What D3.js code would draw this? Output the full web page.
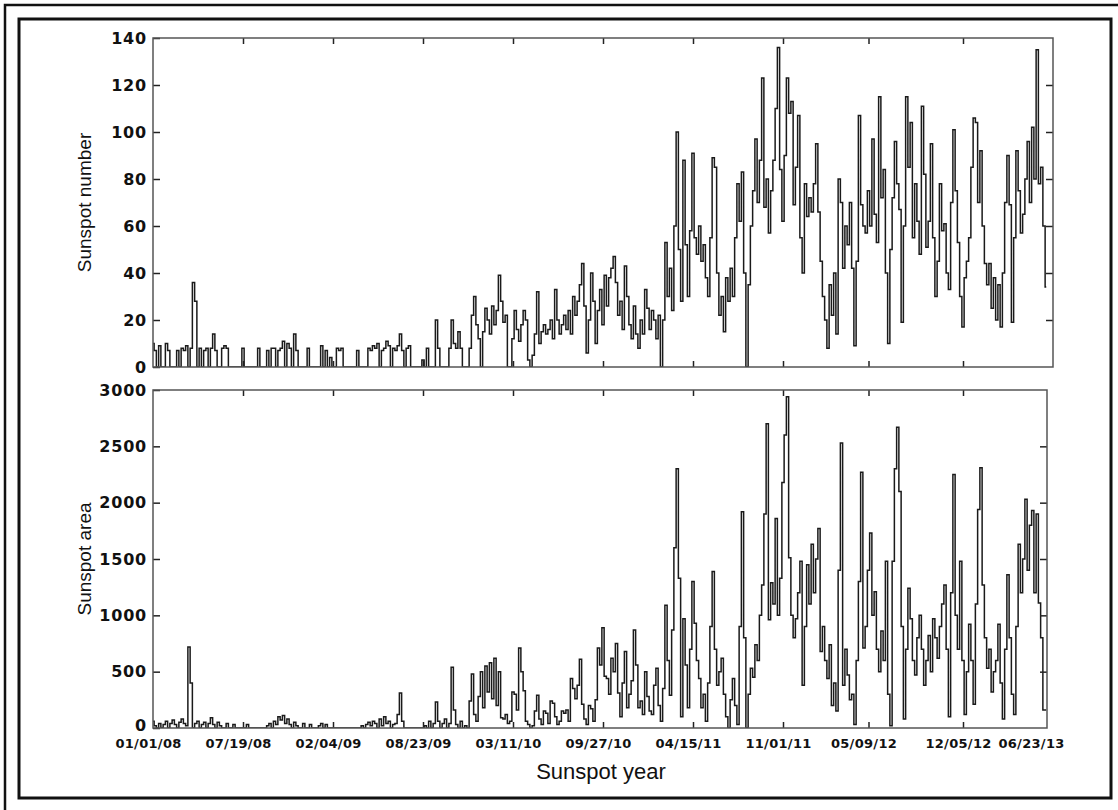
<!DOCTYPE html>
<html>
<head>
<meta charset="utf-8">
<script src="https://cdn.jsdelivr.net/npm/d3@7/dist/d3.min.js"></script>
<style>
  body { margin: 0; background: #fff; }
  .tick text { fill: #111; }
</style>
</head>
<body>
<div id="chart"></div>
<script>
// one value every 5 days, starting 01/01/08
const startDay = "01/01/08";
const stepDays = 5;
const tickLabels = ["01/01/08", "07/19/08", "02/04/09", "08/23/09", "03/11/10", "09/27/10",
                    "04/15/11", "11/01/11", "05/09/12", "12/05/12", "06/23/13"];
const numberTicks = [0, 20, 40, 60, 80, 100, 120, 140];
const areaTicks = [0, 500, 1000, 1500, 2000, 2500, 3000];

const sunspotNumber = [
  10, 7, 0, 9, 0, 0, 10, 7, 0, 0,
  0, 7, 0, 8, 7, 9, 0, 8, 36, 28,
  0, 8, 0, 7, 8, 0, 8, 14, 7, 0,
  0, 8, 9, 8, 0, 0, 0, 0, 0, 0,
  8, 0, 0, 0, 0, 0, 0, 8, 0, 0,
  0, 7, 0, 8, 8, 0, 7, 8, 11, 0,
  10, 8, 0, 14, 7, 0, 0, 0, 0, 8,
  0, 0, 0, 0, 0, 9, 0, 7, 0, 4,
  0, 0, 8, 7, 8, 0, 0, 0, 0, 0,
  0, 7, 0, 0, 0, 0, 8, 7, 9, 8,
  10, 0, 7, 8, 11, 9, 0, 8, 7, 9,
  14, 7, 0, 8, 9, 0, 0, 0, 0, 0,
  3, 0, 8, 0, 0, 0, 20, 8, 0, 0,
  0, 0, 8, 20, 10, 8, 15, 8, 0, 0,
  0, 8, 22, 30, 18, 12, 0, 15, 25, 20,
  14, 26, 18, 24, 39, 28, 19, 22, 0, 0,
  12, 24, 16, 11, 18, 24, 20, 3, 0, 5,
  14, 32, 10, 15, 18, 14, 16, 20, 12, 33,
  20, 14, 18, 22, 16, 24, 14, 30, 22, 28,
  35, 44, 26, 6, 20, 40, 28, 10, 24, 33,
  18, 39, 26, 38, 42, 47, 36, 22, 28, 16,
  43, 30, 18, 12, 26, 14, 8, 20, 14, 33,
  25, 16, 24, 20, 12, 22, 0, 20, 53, 30,
  42, 24, 60, 100, 50, 28, 88, 52, 30, 58,
  91, 55, 48, 60, 45, 52, 38, 30, 55, 89,
  85, 40, 22, 30, 15, 38, 28, 42, 30, 55,
  78, 62, 83, 40, 0, 35, 60, 75, 97, 70,
  88, 123, 68, 80, 57, 75, 88, 110, 136, 84,
  62, 90, 123, 108, 113, 69, 85, 107, 55, 40,
  78, 64, 72, 66, 78, 95, 66, 45, 30, 20,
  8, 35, 22, 40, 14, 80, 70, 42, 60, 52,
  70, 42, 9, 45, 107, 69, 60, 57, 75, 60,
  97, 65, 53, 115, 72, 84, 40, 10, 50, 72,
  96, 78, 67, 19, 60, 115, 85, 104, 55, 78,
  62, 48, 111, 82, 51, 62, 95, 55, 30, 45,
  78, 58, 61, 40, 33, 70, 101, 75, 53, 30,
  17, 38, 45, 55, 85, 106, 104, 70, 92, 60,
  44, 35, 44, 25, 38, 20, 35, 17, 40, 70,
  90, 69, 19, 55, 92, 75, 57, 65, 80, 96,
  70, 102, 80, 135, 78, 85, 60, 34
];

const sunspotArea = [
  60, 20, 0, 40, 0, 30, 60, 0, 40, 70,
  30, 0, 50, 80, 40, 20, 720, 400, 0, 40,
  60, 0, 30, 50, 0, 40, 90, 30, 0, 50,
  20, 0, 0, 40, 0, 0, 30, 0, 0, 0,
  0, 0, 30, 0, 0, 0, 0, 0, 0, 0,
  0, 20, 40, 0, 60, 30, 100, 70, 110, 40,
  80, 30, 0, 50, 20, 0, 0, 40, 0, 0,
  30, 0, 0, 0, 20, 40, 0, 30, 0, 0,
  0, 0, 0, 0, 0, 0, 0, 0, 0, 0,
  0, 0, 0, 20, 0, 30, 50, 20, 60, 40,
  0, 80, 20, 100, 40, 60, 0, 30, 40, 120,
  310, 60, 0, 0, 0, 0, 0, 0, 0, 0,
  0, 20, 0, 60, 0, 40, 230, 60, 0, 40,
  80, 0, 40, 540, 160, 30, 0, 60, 0, 20,
  0, 240, 480, 120, 60, 280, 500, 180, 550, 320,
  580, 260, 620, 200, 500, 90, 80, 120, 40, 60,
  320, 300, 160, 710, 500, 330, 60, 30, 0, 20,
  150, 290, 80, 30, 150, 130, 40, 240, 220, 100,
  30, 60, 150, 130, 160, 60, 440, 350, 260, 380,
  610, 210, 80, 30, 200, 170, 60, 250, 710, 560,
  890, 460, 440, 300, 620, 500, 750, 310, 100, 400,
  680, 180, 300, 420, 870, 560, 180, 240, 120, 500,
  280, 150, 120, 380, 530, 200, 60, 350, 1090, 600,
  290, 870, 1600, 2300, 1330, 100, 970, 560, 180, 700,
  1300, 930, 600, 440, 180, 300, 60, 400, 900, 1390,
  700, 380, 500, 620, 300, 100, 0, 250, 440, 200,
  30, 900, 1920, 800, 0, 300, 530, 450, 740, 600,
  1000, 1270, 1900, 2700, 960, 1290, 1100, 1860, 1000, 1330,
  2180, 2600, 2940, 1510, 1000, 800, 970, 1200, 1480, 380,
  900, 1450, 1100, 1630, 1200, 1500, 1770, 680, 900, 600,
  440, 740, 200, 400, 150, 1400, 2530, 380, 700, 470,
  250, 300, 30, 600, 1300, 2270, 710, 900, 1400, 1730,
  1000, 1210, 700, 500, 860, 600, 1480, 300, 20, 1480,
  2300, 2670, 2100, 900, 80, 700, 1240, 970, 600, 470,
  800, 1000, 700, 380, 600, 820, 500, 970, 800, 620,
  900, 1100, 1270, 700, 100, 1200, 2250, 1000, 700, 1480,
  600, 120, 500, 920, 600, 210, 1100, 1940, 2310, 1270,
  800, 530, 700, 320, 500, 600, 920, 400, 80, 700,
  1360, 800, 300, 120, 900, 1630, 1200, 1500, 2030, 1400,
  1800, 1930, 1200, 1900, 1110, 800, 160, 160
];

const W = 1118, H = 810;
const tickFont = "'DejaVu Sans', Verdana, sans-serif";
const labelFont = "'Liberation Sans', Arial, sans-serif";
const parse = d3.utcParse("%m/%d/%y");
const t0 = parse(startDay);
const dateAt = i => d3.utcDay.offset(t0, i * stepDays);
const tickDates = tickLabels.map(parse);

const svg = d3.select("#chart").append("svg")
    .attr("width", W)
    .attr("height", H);

// picture frame
svg.append("path")
    .attr("d", "M5,810 L5,5 L1118,5")
    .attr("fill", "none").attr("stroke", "#111").attr("stroke-width", 2.5);
svg.append("rect")
    .attr("x", 19).attr("y", 19).attr("width", 1092).attr("height", 779)
    .attr("fill", "none").attr("stroke", "#111").attr("stroke-width", 3);

const x = d3.scaleUtc()
    .domain([tickDates[0], tickDates[tickDates.length - 1]])
    .range([153, 1053]);

const panels = [
  {id: "num", data: sunspotNumber, ticks: numberTicks, top: 38, bottom: 367, right: 1053,
   label: "Sunspot number", showDates: false},
  {id: "area", data: sunspotArea, ticks: areaTicks, top: 390, bottom: 728, right: 1047,
   label: "Sunspot area", showDates: true}
];

panels.forEach(p => {
  const y = d3.scaleLinear()
      .domain([0, d3.max(p.ticks)])
      .range([p.bottom, p.top]);
  const left = x.range()[0];

  const g = svg.append("g");

  g.append("clipPath").attr("id", "clip-" + p.id)
    .append("rect")
      .attr("x", left).attr("y", p.top)
      .attr("width", p.right - left).attr("height", p.bottom - p.top);

  const line = d3.line()
      .x((d, i) => x(dateAt(i)))
      .y(d => y(d))
      .curve(d3.curveStep);

  g.append("path")
      .datum(p.data)
      .attr("clip-path", `url(#clip-${p.id})`)
      .attr("fill", "none")
      .attr("stroke", "#1a1a1a")
      .attr("stroke-width", 1.5)
      .attr("d", line);

  // inward ticks on all four sides
  const yLeft = g.append("g")
      .attr("transform", `translate(${left},0)`)
      .call(d3.axisLeft(y).tickValues(p.ticks).tickSize(-7).tickPadding(6)
        .tickFormat(d3.format("d")));
  yLeft.selectAll("text")
      .style("font-family", tickFont)
      .style("font-size", "16px").style("font-weight", "bold").style("letter-spacing", "0.8px");
  // keep the lowest value clear of the date labels below it
  if (p.showDates) yLeft.selectAll("text").filter(d => d === 0).attr("dy", "0.15em");

  g.append("g")
      .attr("transform", `translate(${p.right},0)`)
      .call(d3.axisRight(y).tickValues(p.ticks.slice(1, -1)).tickSize(-7).tickFormat(""));

  g.append("g")
      .attr("transform", `translate(0,${p.top})`)
      .call(d3.axisTop(x).tickValues(tickDates.slice(1, -1)).tickSize(-6).tickFormat(""));

  g.append("g")
      .attr("transform", `translate(0,${p.bottom})`)
      .call(d3.axisBottom(x).tickValues(tickDates.slice(1, -1)).tickSize(-6).tickFormat(""));

  if (p.showDates) {
    const xl = g.append("g")
        .attr("transform", `translate(0,${p.bottom})`)
        .call(d3.axisBottom(x).tickValues(tickDates).tickSize(0).tickPadding(11)
          .tickFormat((d, i) => tickLabels[i]));
    xl.select(".domain").remove();
    xl.selectAll("text")
        .attr("dx", (d, i) => i === tickLabels.length - 1 ? -22 : -5)
        .style("font-family", tickFont)
        .style("font-size", "13px").style("font-weight", "bold").style("letter-spacing", "0.3px");
  }

  g.selectAll(".domain").remove();
  g.selectAll(".tick line").attr("stroke", "#222").attr("stroke-width", 1.5);

  g.append("rect")
      .attr("x", left).attr("y", p.top)
      .attr("width", p.right - left).attr("height", p.bottom - p.top)
      .attr("fill", "none").attr("stroke", "#555").attr("stroke-width", 1.5);

  g.append("text")
      .attr("transform", `translate(91,${(p.top + p.bottom) / 2}) rotate(-90)`)
      .attr("text-anchor", "middle")
      .style("font-family", labelFont)
      .style("font-size", "19px")
      .attr("fill", "#111")
      .text(p.label);
});

svg.append("text")
    .attr("x", 601).attr("y", 779)
    .attr("text-anchor", "middle")
    .style("font-family", labelFont)
    .style("font-size", "22px")
    .attr("fill", "#111")
    .text("Sunspot year");
</script>
</body>
</html>
